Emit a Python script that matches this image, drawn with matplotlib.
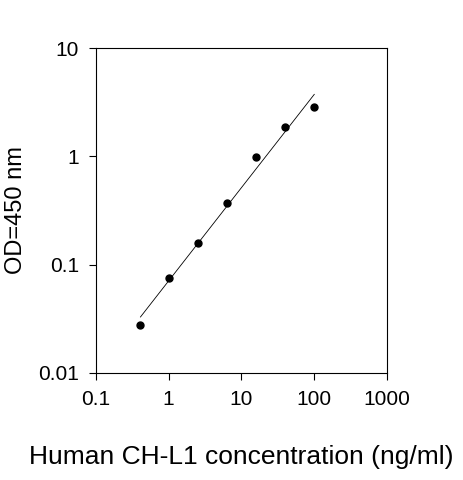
import matplotlib
matplotlib.use("Agg")
import matplotlib.pyplot as plt
import numpy as np
from matplotlib.ticker import FixedLocator, FixedFormatter, NullLocator

plt.rcParams["font.family"] = ["Liberation Sans", "DejaVu Sans"]

conc = [0.41, 1.02, 2.56, 6.4, 16, 40, 100]
od = [0.028, 0.075, 0.16, 0.37, 0.98, 1.85, 2.85]
x_ticks = [0.1, 1, 10, 100, 1000]
x_labels = ["0.1", "1", "10", "100", "1000"]
y_ticks = [0.01, 0.1, 1, 10]
y_labels = ["0.01", "0.1", "1", "10"]

fig = plt.figure(figsize=(4.63, 4.8), dpi=100)
ax = fig.add_axes([0.207, 0.223, 0.629, 0.677])

# log-log regression line through the standards
k, b = np.polyfit(np.log10(conc), np.log10(od), 1)
xs = np.array([conc[0], conc[-1]])
ax.plot(xs, 10 ** (k * np.log10(xs) + b), color="black", lw=0.6)
ax.plot(conc, od, "o", color="black", ms=5)

ax.set_xscale("log")
ax.set_yscale("log")
ax.set_xlim(0.1, 1000)
ax.set_ylim(0.01, 10)
ax.xaxis.set_major_locator(FixedLocator(x_ticks))
ax.xaxis.set_major_formatter(FixedFormatter(x_labels))
ax.yaxis.set_major_locator(FixedLocator(y_ticks))
ax.yaxis.set_major_formatter(FixedFormatter(y_labels))
ax.xaxis.set_minor_locator(NullLocator())
ax.yaxis.set_minor_locator(NullLocator())
ax.tick_params(labelsize=15, length=5, width=0.8, pad=7)
for s in ax.spines.values():
    s.set_linewidth(0.8)

ax.set_ylabel("OD=450 nm", fontsize=17, labelpad=8)
ax.set_xlabel("Human CH-L1 concentration (ng/ml)", fontsize=19, labelpad=26)

fig.savefig("out.png", dpi=100)
